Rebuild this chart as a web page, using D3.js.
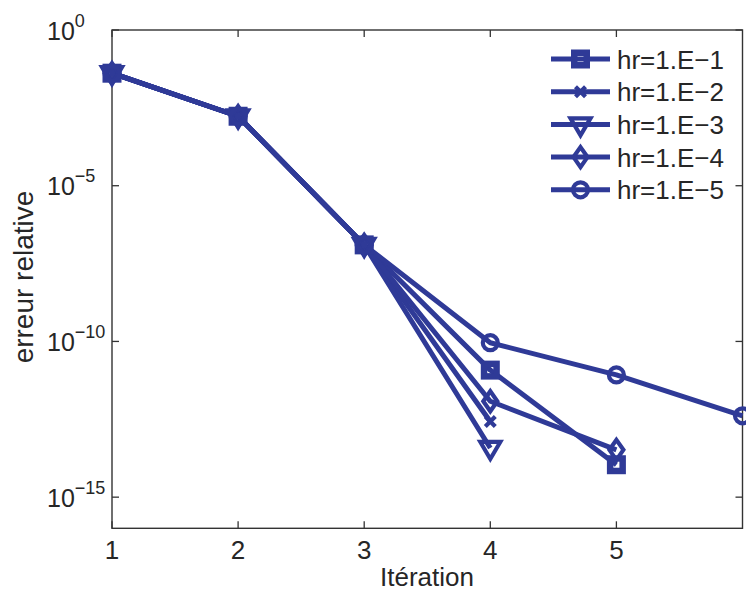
<!DOCTYPE html>
<html>
<head>
<meta charset="utf-8">
<script src="https://cdn.jsdelivr.net/npm/d3@7"></script>
<style>
  body { margin: 0; background: #fff; }
  svg { display: block; }
  text { font-family: "Liberation Sans", Arial, Helvetica, sans-serif; fill: #262626; }
</style>
</head>
<body>
<svg id="chart" width="746" height="597"></svg>
<script>
// ---- data ----
const iterations = [1, 2, 3, 4, 5, 6];
const seriesNames = ["hr=1.E\u22121", "hr=1.E\u22122", "hr=1.E\u22123", "hr=1.E\u22124", "hr=1.E\u22125"];
const markerTypes = ["square", "x", "triangle", "diamond", "circle"];
const hr1 = [4.1e-2, 1.7e-3, 1.26e-7, 1.2e-11, 1.1e-14];
const hr2 = [4.1e-2, 1.7e-3, 1.26e-7, 2.7e-13];
const hr3 = [4.1e-2, 1.7e-3, 1.26e-7, 3.8e-14];
const hr4 = [4.1e-2, 1.7e-3, 1.26e-7, 1.2e-12, 3.3e-14];
const hr5 = [4.1e-2, 1.7e-3, 1.26e-7, 9.1e-11, 8.4e-12, 4.1e-13];
const seriesValues = [hr1, hr2, hr3, hr4, hr5];
const xTicks = [1, 2, 3, 4, 5];
const yTickExps = [0, -5, -10, -15];
const xLabel = "Itération";
const yLabel = "erreur relative";

(function () {
// ---- layout ----
const color = "#2f3a97";
const axisColor = "#333";
const pLeft = 112, pRight = 742.5, pTop = 30, pBottom = 528.3;
const svg = d3.select("#chart");

const x = d3.scaleLinear().domain([1, 6]).range([pLeft, pRight]);
const y = d3.scaleLog().domain([1e-16, 1]).range([pBottom, pTop]);

// axes box
const g = svg.append("g");
g.append("rect").attr("x", pLeft).attr("y", pTop)
  .attr("width", pRight - pLeft).attr("height", pBottom - pTop)
  .attr("fill", "none").attr("stroke", axisColor).attr("stroke-width", 1.4);

const tickLen = 7;
xTicks.forEach(t => {
  g.append("line").attr("x1", x(t)).attr("x2", x(t)).attr("y1", pBottom).attr("y2", pBottom - tickLen)
    .attr("stroke", axisColor).attr("stroke-width", 1.3);
  g.append("line").attr("x1", x(t)).attr("x2", x(t)).attr("y1", pTop).attr("y2", pTop + tickLen)
    .attr("stroke", axisColor).attr("stroke-width", 1.3);
  g.append("text").attr("x", x(t)).attr("y", 559).attr("text-anchor", "middle")
    .attr("font-size", 26).text(d3.format("d")(t));
});
yTickExps.forEach(e => {
  const v = Math.pow(10, e);
  g.append("line").attr("x1", pLeft).attr("x2", pLeft + tickLen).attr("y1", y(v)).attr("y2", y(v))
    .attr("stroke", axisColor).attr("stroke-width", 1.3);
  g.append("line").attr("x1", pRight).attr("x2", pRight - tickLen).attr("y1", y(v)).attr("y2", y(v))
    .attr("stroke", axisColor).attr("stroke-width", 1.3);
  const supText = e === 0 ? "0" : "\u2212" + Math.abs(e);
  const tx = g.append("text").attr("x", 47).attr("y", y(v) + 9.5)
    .attr("text-anchor", "start").attr("font-size", 25);
  tx.append("tspan").text("10");
  tx.append("tspan").attr("font-size", 18).attr("dy", -13).text(supText);
});

// axis labels
svg.append("text").attr("x", 427).attr("y", 586).attr("text-anchor", "middle")
  .attr("font-size", 26).text(xLabel);
svg.append("text").attr("transform", "translate(33,277) rotate(-90)")
  .attr("text-anchor", "middle").attr("font-size", 28).text(yLabel);

function drawMarker(sel, type) {
  const sw = 4.2;
  if (type === "square") {
    sel.append("rect").attr("x", -6.25).attr("y", -6.25).attr("width", 12.5).attr("height", 12.5)
      .attr("fill", "none").attr("stroke", color).attr("stroke-width", 6.5);
  } else if (type === "circle") {
    sel.append("circle").attr("r", 7.5).attr("fill", "none")
      .attr("stroke", color).attr("stroke-width", sw);
  } else if (type === "triangle") {
    sel.append("path").attr("d", "M-10,-6L10,-6L0,11Z").attr("fill", "none")
      .attr("stroke", color).attr("stroke-width", sw).attr("stroke-linejoin", "miter");
  } else if (type === "diamond") {
    sel.append("path").attr("d", "M0,-10L7,0L0,10L-7,0Z").attr("fill", "none")
      .attr("stroke", color).attr("stroke-width", sw).attr("stroke-linejoin", "miter");
  } else if (type === "x") {
    sel.append("path").attr("d", "M-5,-5L5,5M-5,5L5,-5").attr("fill", "none")
      .attr("stroke", color).attr("stroke-width", sw);
  }
}

const line = d3.line().x((d, i) => x(iterations[i])).y(d => y(d));
seriesValues.forEach(vals => {
  svg.append("path").datum(vals).attr("d", line)
    .attr("fill", "none").attr("stroke", color).attr("stroke-width", 5)
    .attr("stroke-linejoin", "round");
});
seriesValues.forEach((vals, si) => {
  vals.forEach((v, i) => {
    const m = svg.append("g").attr("transform", `translate(${x(iterations[i])},${y(v)})`);
    drawMarker(m, markerTypes[si]);
  });
});

// legend
const legY0 = 59, legDy = 32.7;
seriesNames.forEach((name, i) => {
  const ly = legY0 + i * legDy;
  svg.append("line").attr("x1", 551).attr("x2", 610).attr("y1", ly).attr("y2", ly)
    .attr("stroke", color).attr("stroke-width", 5);
  const m = svg.append("g").attr("transform", `translate(580.5,${ly})`);
  drawMarker(m, markerTypes[i]);
  svg.append("text").attr("x", 617).attr("y", ly + 9.5).attr("font-size", 26).text(name);
});
})();
</script>
</body>
</html>
